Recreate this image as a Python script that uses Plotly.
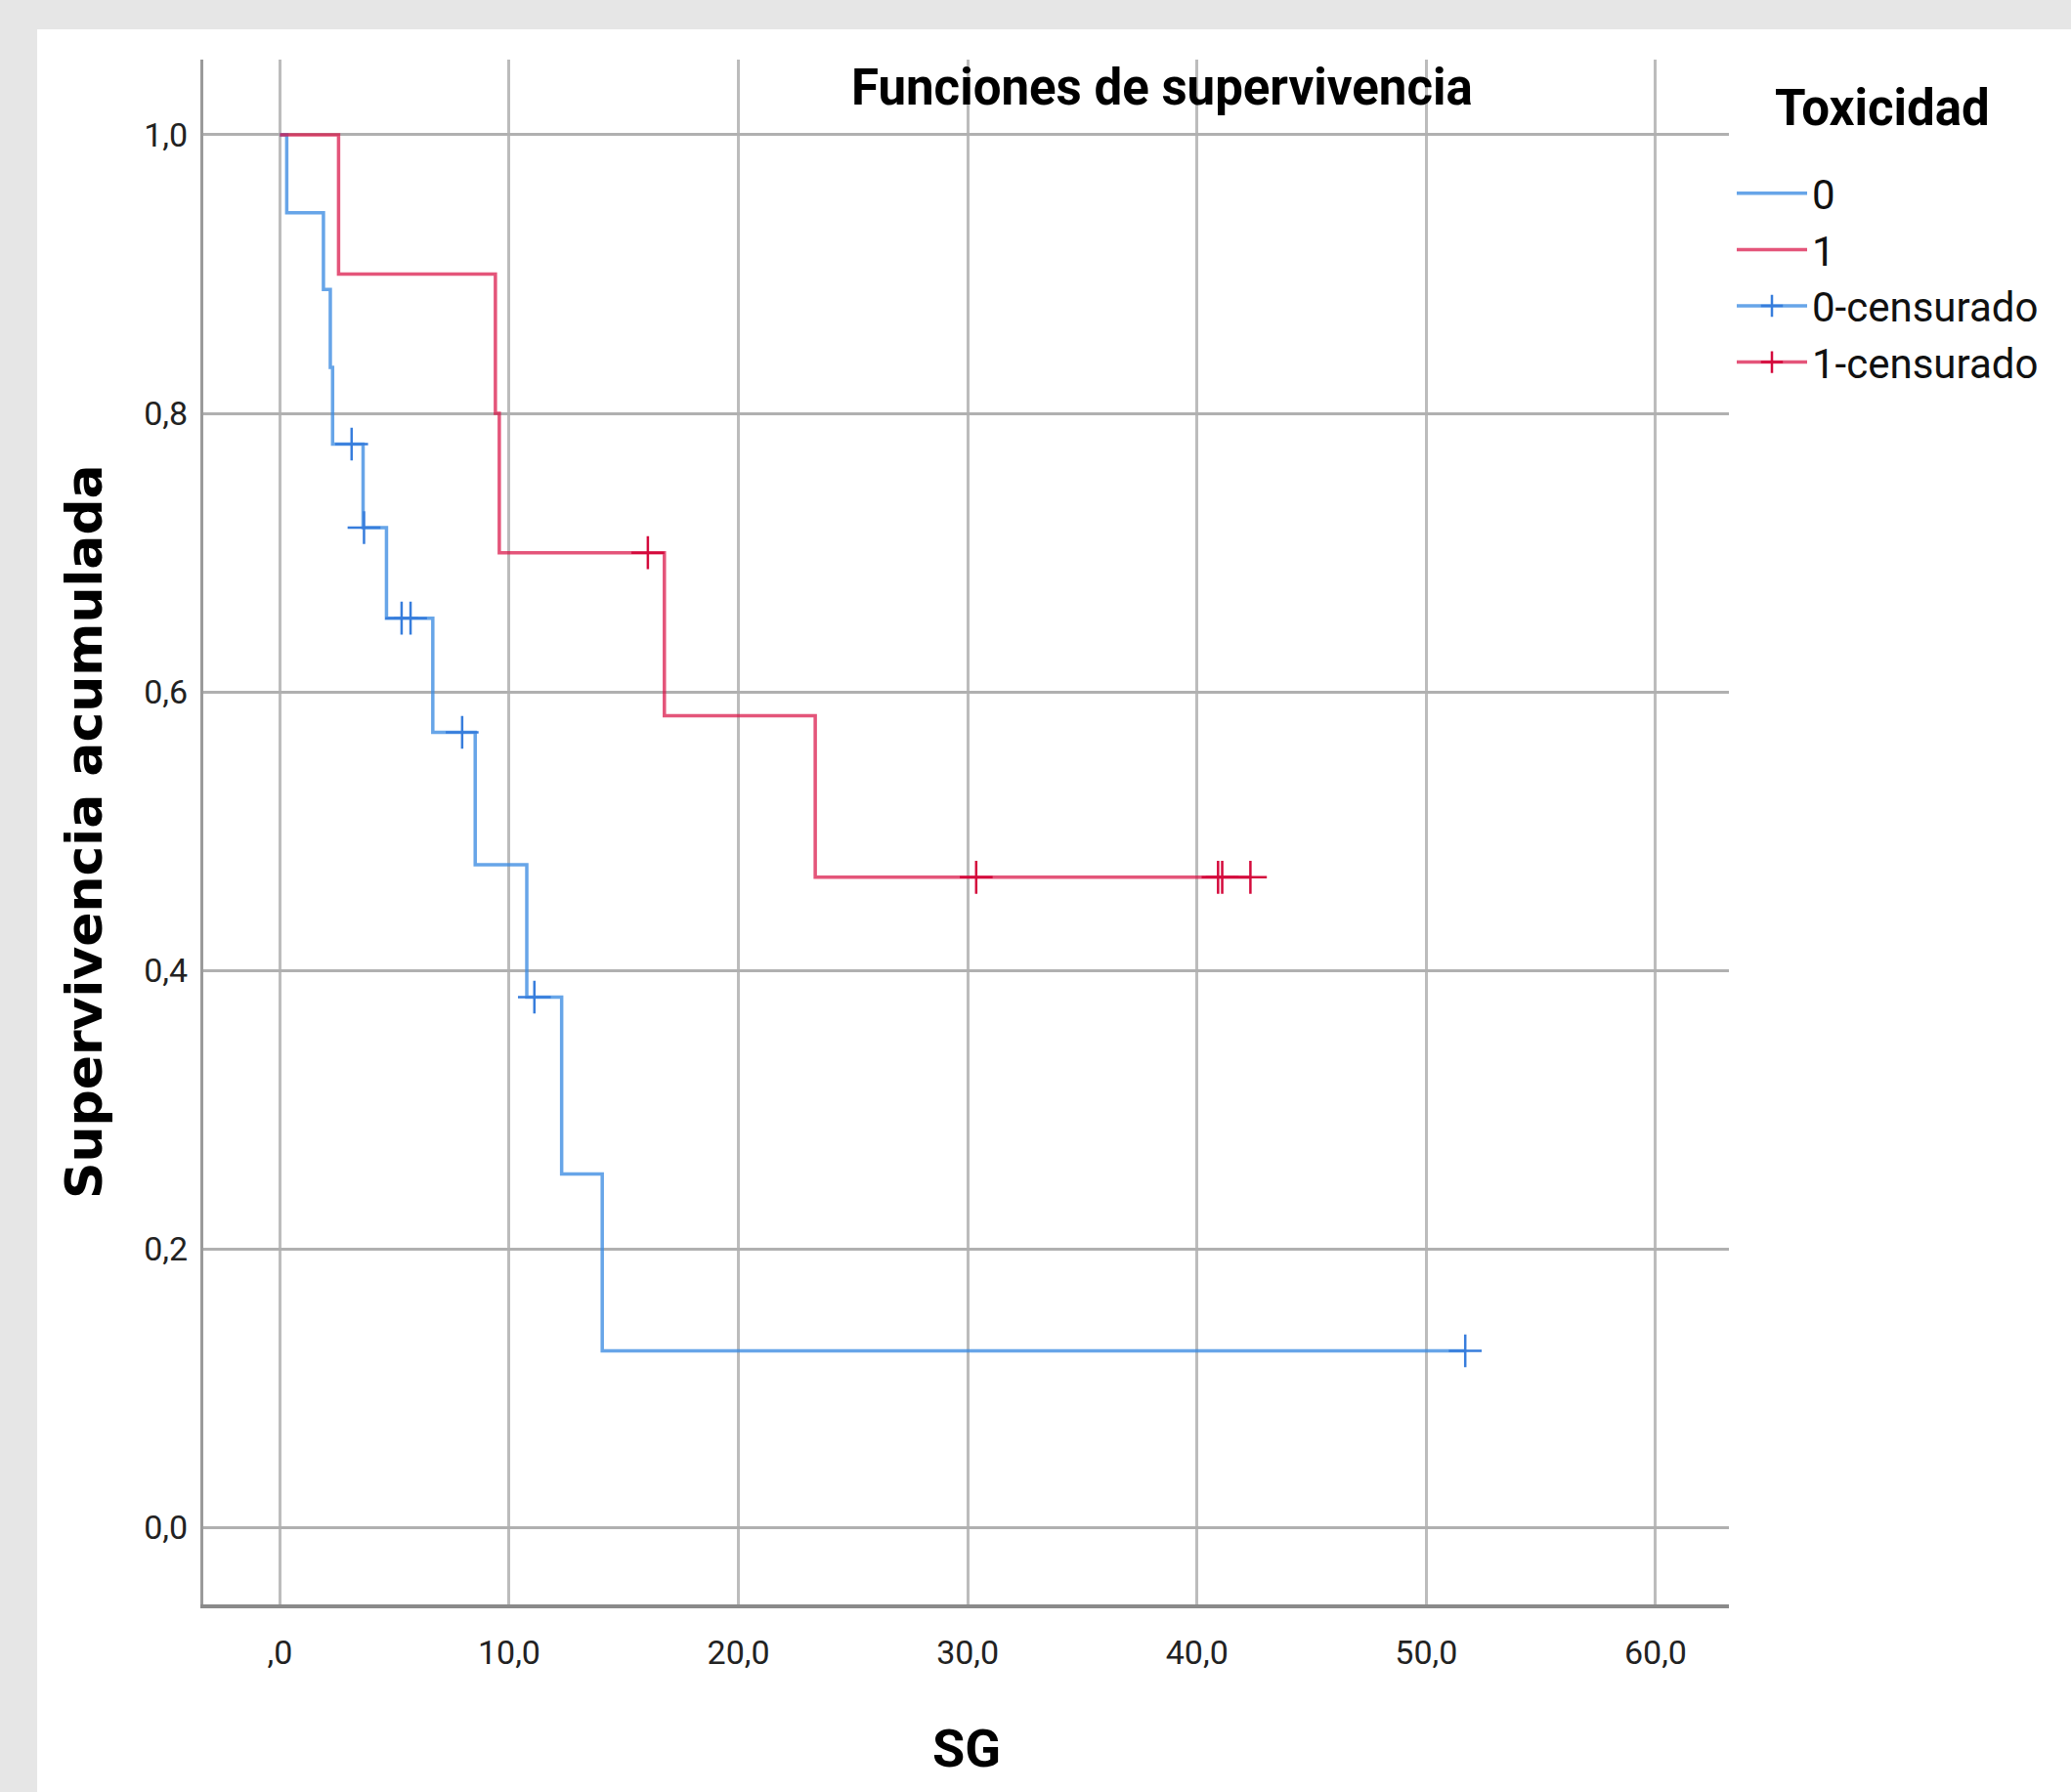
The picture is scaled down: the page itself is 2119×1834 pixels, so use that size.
import plotly.graph_objects as go

# ---------------- data ----------------
tiempo_0 = [0.0, 0.3, 1.9, 2.2, 2.3, 3.63, 4.65, 6.67, 8.52, 10.77, 12.29, 14.06, 51.7]
superv_0 = [1.0, 0.944, 0.889, 0.833, 0.778, 0.718, 0.653, 0.571, 0.476, 0.381, 0.254, 0.127, 0.127]

tiempo_1 = [0.0, 2.56, 9.4, 9.57, 16.77, 23.35, 42.33]
superv_1 = [1.0, 0.9, 0.8, 0.7, 0.583, 0.467, 0.467]

censura_t_0 = [3.13, 3.67, 5.31, 5.70, 7.95, 11.1, 51.7]
censura_s_0 = [0.778, 0.718, 0.653, 0.653, 0.571, 0.381, 0.127]

censura_t_1 = [16.05, 30.37, 40.92, 41.1, 42.33]
censura_s_1 = [0.7, 0.467, 0.467, 0.467, 0.467]

x_ticks = [0, 10, 20, 30, 40, 50, 60]
x_tick_labels = [",0", "10,0", "20,0", "30,0", "40,0", "50,0", "60,0"]
y_ticks = [0.0, 0.2, 0.4, 0.6, 0.8, 1.0]
y_tick_labels = ["0,0", "0,2", "0,4", "0,6", "0,8", "1,0"]

grupos = ["0", "1"]
nombres_censura = ["0-censurado", "1-censurado"]

# ---------------- styling ----------------
W, H = 2119, 1834
ML, MR, MT, MB = 208, 350, 61, 192
PW, PH = W - ML - MR, H - MT - MB

NARROW = "Roboto, Liberation Sans Narrow, sans-serif"
WIDE = "DejaVu Sans, Verdana, sans-serif"

azul_linea = "rgba(60,140,225,0.78)"
azul_marca = "rgb(55,125,220)"
rojo_linea = "rgba(218,20,70,0.72)"
rojo_marca = "rgb(212,10,60)"


def px_x(p):
    return (p - ML) / PW


def px_y(p):
    return (H - MB - p) / PH


fig = go.Figure()

fig.add_trace(go.Scatter(x=tiempo_0, y=superv_0, mode="lines", line_shape="hv",
                         line=dict(color=azul_linea, width=3.5), name=grupos[0]))
fig.add_trace(go.Scatter(x=tiempo_1, y=superv_1, mode="lines", line_shape="hv",
                         line=dict(color=rojo_linea, width=3.5), name=grupos[1]))

fig.add_trace(go.Scatter(x=censura_t_0, y=censura_s_0, mode="markers", showlegend=False,
                         marker=dict(symbol="cross-thin", size=24,
                                     line=dict(color=azul_marca, width=2.5)),
                         name=nombres_censura[0]))
fig.add_trace(go.Scatter(x=censura_t_1, y=censura_s_1, mode="markers", showlegend=False,
                         marker=dict(symbol="cross-thin", size=24,
                                     line=dict(color=rojo_marca, width=2.5)),
                         name=nombres_censura[1]))

# legend entries for censored marks (line + cross like the original key)
fig.add_trace(go.Scatter(x=[None], y=[None], mode="lines+markers", name=nombres_censura[0],
                         line=dict(color=azul_linea, width=3.5),
                         marker=dict(symbol="cross-thin", size=16,
                                     line=dict(color=azul_marca, width=2.5))))
fig.add_trace(go.Scatter(x=[None], y=[None], mode="lines+markers", name=nombres_censura[1],
                         line=dict(color=rojo_linea, width=3.5),
                         marker=dict(symbol="cross-thin", size=16,
                                     line=dict(color=rojo_marca, width=2.5))))

fig.update_layout(
    width=W, height=H,
    margin=dict(l=ML, r=MR, t=MT, b=MB, pad=0),
    paper_bgcolor="#e6e6e6",
    plot_bgcolor="white",
    separators=",.",
    showlegend=True,
    legend=dict(x=px_x(1772), y=px_y(164), xanchor="left", yanchor="top",
                font=dict(family=NARROW, size=42, color="#111"),
                bgcolor="rgba(0,0,0,0)", itemwidth=72, tracegroupgap=0,
                traceorder="normal"),
    xaxis=dict(range=[-3.34, 63.2], tickmode="array", tickvals=x_ticks, ticktext=x_tick_labels,
               showgrid=True, gridcolor="#bcbcbc", gridwidth=2.5, zeroline=False,
               showline=True, linecolor="#8a8a8a", linewidth=4, ticks="",
               tickfont=dict(family=NARROW, size=34, color="#222"),
               ticklabelstandoff=16, fixedrange=True),
    yaxis=dict(range=[-0.055, 1.054], tickmode="array", tickvals=y_ticks, ticktext=y_tick_labels,
               showgrid=True, gridcolor="#b0b0b0", gridwidth=3, zeroline=False,
               showline=True, linecolor="#9a9a9a", linewidth=3, ticks="",
               tickfont=dict(family=NARROW, size=34, color="#222"),
               ticklabelstandoff=6, fixedrange=True),
    shapes=[dict(type="rect", xref="paper", yref="paper",
                 x0=px_x(38), x1=px_x(2130), y0=px_y(1845), y1=px_y(30),
                 fillcolor="white", line=dict(width=0), layer="below")],
    annotations=[
        dict(text="<b>Funciones de supervivencia</b>", xref="paper", yref="paper",
             x=px_x(1189), y=px_y(90), xanchor="center", yanchor="middle", showarrow=False,
             font=dict(family=NARROW, size=51, color="#000")),
        dict(text="<b>Toxicidad</b>", xref="paper", yref="paper",
             x=px_x(1926), y=px_y(111), xanchor="center", yanchor="middle", showarrow=False,
             font=dict(family=NARROW, size=51, color="#000")),
        dict(text="<b>SG</b>", xref="paper", yref="paper",
             x=px_x(989), y=px_y(1790), xanchor="center", yanchor="middle", showarrow=False,
             font=dict(family=NARROW, size=54, color="#000")),
        dict(text="<b>Supervivencia acumulada</b>", xref="paper", yref="paper",
             x=px_x(86), y=px_y(851), xanchor="center", yanchor="middle", showarrow=False,
             textangle=-90, font=dict(family=WIDE, size=52, color="#000")),
    ],
)

fig.write_html("out.html", config={"displayModeBar": False},
               post_script="document.body.style.margin='0';document.body.style.overflow='hidden';")
